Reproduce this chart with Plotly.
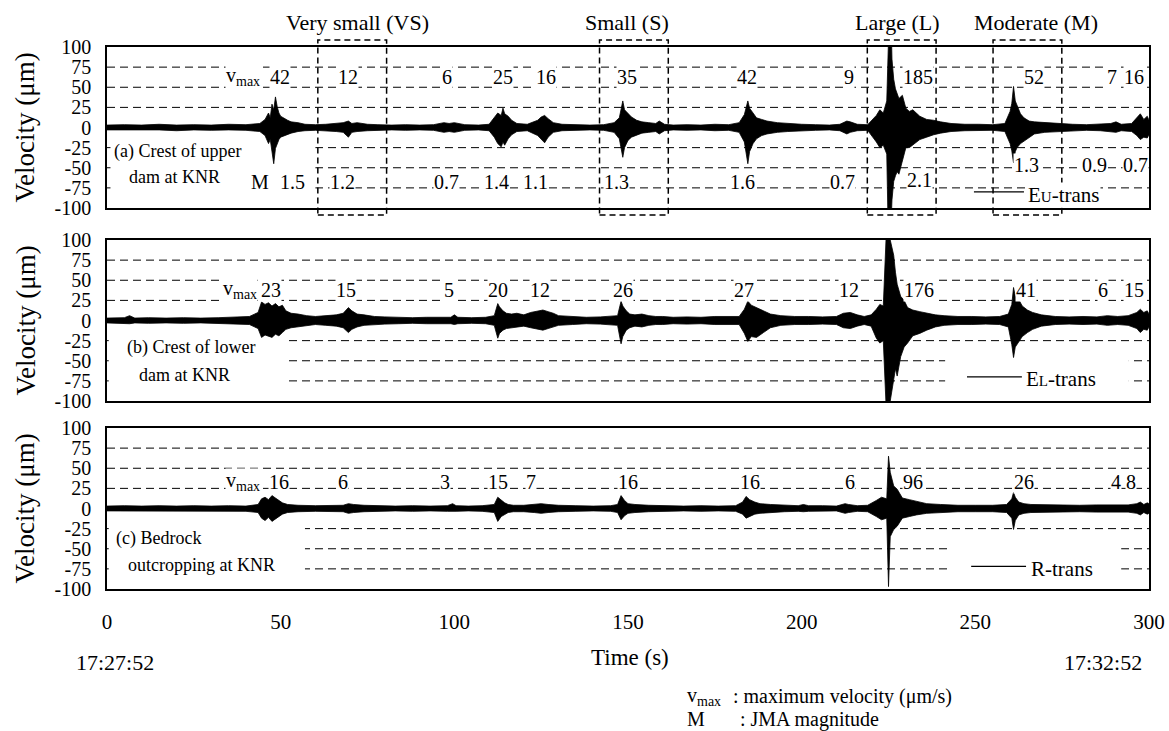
import plotly.graph_objects as go
from plotly.subplots import make_subplots

W, H = 1169, 731
FONT = "Liberation Serif, Times New Roman, serif"

# ---------- data ----------
# envelope of each velocity record: time (s), upper and lower peak (um)
t_a = [0, 5, 10, 15, 20, 25, 30, 35, 40, 44,
       45.5, 46.5, 47, 47.5, 48, 48.5, 49, 49.5, 50, 51,
       52, 53, 55, 57, 60, 63, 66, 68, 69.5, 70.5,
       72, 75, 78, 82, 86, 90, 94, 97, 98.5, 100,
       103, 107, 110, 111.5, 112.5, 113.5, 114, 114.5, 115.5, 116.5,
       118, 121, 124, 125, 126, 127, 128.5, 131, 135, 139,
       143, 146, 147.5, 148.5, 149, 150, 151, 152.5, 154, 156,
       158, 159, 160.5, 163, 167, 171, 175, 179, 182, 183.5,
       184.5, 185, 186, 187, 188.5, 190, 193, 196, 200, 204,
       208, 211, 213, 214, 216, 219, 221.5, 222.5, 223.5, 224.5,
       225, 225.5, 226, 226.5, 227, 227.5, 228, 229, 230, 231,
       232, 234, 236, 238, 240, 243, 247, 251, 255, 258.5,
       260, 260.5, 261, 261.5, 262, 263, 264, 265.5, 267, 270,
       274, 278, 282, 286, 289, 290.5, 292, 295, 296.5, 297.5,
       298.5, 299.5, 300]
up_a = [3, 3.5, 3, 4, 3, 3.5, 3, 4, 3.5, 5,
        10, 18, 12, 29, 22, 38, 26, 18, 14, 11,
        9, 7, 6, 4, 3.5, 4, 5, 6, 8, 5,
        6, 4, 3.5, 3, 3.5, 3, 3.5, 6, 5, 6,
        3.5, 3, 4, 12, 18, 15, 24, 17, 14, 9,
        5, 4, 9, 13, 15, 11, 6, 4, 3.5, 3,
        3.5, 6, 12, 33, 22, 17, 13, 9, 7, 6,
        5, 8, 4, 3, 3.5, 3, 4, 3.5, 6, 16,
        33, 24, 18, 12, 10, 8, 6, 5, 4, 3.5,
        3, 4, 8, 7, 4, 3.5, 15, 22, 18, 33,
        185, 185, 85, 60, 48, 42, 36, 40, 24, 20,
        22, 14, 10, 9, 7, 5, 4, 4, 3.5, 5,
        20, 30, 51, 33, 28, 17, 12, 8, 7, 6,
        5, 4, 3.5, 4, 5, 7, 4, 5, 12, 17,
        10, 14, 9]
lo_a = [-3, -3, -3.5, -3, -4, -3, -3.5, -3, -3.5, -5,
        -10, -20, -15, -30, -45, -26, -20, -15, -12, -10,
        -8, -7, -5, -4, -3.5, -4, -5, -6, -12, -6,
        -5, -4, -3.5, -3, -3.5, -3, -3.5, -6, -5, -6,
        -3.5, -3, -4, -12, -20, -24, -18, -22, -14, -9,
        -5, -4, -10, -15, -19, -12, -6, -4, -3.5, -3,
        -3.5, -6, -14, -37, -25, -16, -12, -9, -7, -6,
        -5, -8, -4, -3, -3.5, -3, -4, -3.5, -6, -18,
        -45, -30, -20, -14, -10, -8, -6, -5, -4, -3.5,
        -3, -4, -8, -6, -4, -3.5, -18, -25, -22, -33,
        -150, -150, -90, -67, -60, -55, -58, -40, -25, -25,
        -22, -15, -12, -9, -7, -5, -4, -4, -3.5, -5,
        -20, -29, -44, -30, -25, -20, -17, -12, -8, -6,
        -5, -4, -3.5, -4, -5, -6, -4, -5, -10, -15,
        -12, -13, -9]

t_b = [0, 5, 6.5, 8, 12, 17, 22, 27, 32, 37,
       41, 43.5, 44.5, 45.5, 46.5, 47.5, 48.5, 49.5, 50.5, 51.5,
       53, 55, 57.5, 60, 63, 66, 68, 69.5, 70.5, 72,
       74, 77, 80, 84, 88, 92, 96, 99, 100, 101,
       105, 109, 111.5, 112.5, 113, 114, 115, 116.5, 118, 120,
       122, 124, 125.5, 127, 128.5, 130, 134, 138, 142, 145,
       147, 148, 148.5, 149.5, 150.5, 152, 154, 156, 158, 160,
       163, 167, 171, 175, 179, 182, 183.5, 184.5, 185.5, 187,
       189, 191, 194, 198, 202, 206, 210, 212, 214, 216,
       218, 220, 221.5, 222.5, 223.5, 224.5, 225, 225.5, 226.5, 227,
       227.5, 228.5, 229.5, 230.5, 232, 234, 236, 238.5, 241, 245,
       249, 253, 257, 259.5, 260.5, 261, 261.5, 262.5, 263.5, 265,
       266.5, 269, 273, 277, 281, 285, 288, 291, 294, 296.5,
       297.5, 298.5, 299.5, 300]
up_b = [3, 3.5, 6, 3, 3.5, 3, 3.5, 3, 3.5, 4,
        5, 10, 23, 20, 22, 18, 21, 17, 19, 12,
        9, 8, 6, 5, 6, 7, 9, 16, 12, 8,
        7, 5, 4.5, 4, 3.5, 4, 3.5, 4, 7, 4,
        3.5, 4, 6, 21, 17, 12, 9, 8, 9, 7,
        10, 12, 13, 11, 9, 6, 5, 4, 4.5, 5,
        6, 24, 18, 12, 8, 7, 8, 6, 5, 5,
        4, 4.5, 4, 5, 4.5, 5, 14, 24, 19, 16,
        12, 8, 6, 5, 5, 4.5, 5, 9, 10, 7,
        5, 7, 14, 20, 18, 100, 176, 100, 81, 60,
        45, 30, 25, 16, 13, 11, 9, 7, 6, 5,
        5, 4.5, 5, 8, 20, 41, 30, 26, 18, 13,
        10, 7, 5, 4.5, 5, 4.5, 6, 5, 6, 10,
        14, 10, 12, 8]
lo_b = [-3, -3.5, -4, -3, -3.5, -3, -3.5, -3, -3.5, -4,
        -5, -10, -21, -18, -20, -21, -17, -19, -15, -11,
        -9, -8, -6, -5, -6, -7, -9, -15, -11, -8,
        -6, -5, -4.5, -4, -3.5, -4, -3.5, -4, -5, -4,
        -3.5, -4, -6, -22, -16, -12, -10, -9, -8, -7,
        -9, -11, -12, -10, -8, -6, -5, -4, -4.5, -5,
        -6, -29, -20, -12, -9, -7, -8, -6, -5, -5,
        -4, -4.5, -4, -5, -4.5, -5, -16, -26, -20, -21,
        -15, -9, -6, -5, -5, -4.5, -5, -9, -10, -7,
        -5, -7, -22, -28, -25, -100, -176, -100, -74, -60,
        -69, -45, -33, -28, -19, -16, -12, -8, -6, -5,
        -5, -4.5, -5, -8, -30, -46, -33, -26, -20, -15,
        -11, -7, -5, -4.5, -5, -4.5, -6, -5, -6, -10,
        -15, -11, -12, -8]

t_c = [0, 5, 10, 15, 20, 25, 30, 35, 40, 43.5,
       44.5, 45.5, 46.5, 47.5, 48.5, 49.5, 50.5, 52, 55, 60,
       65, 68, 69.5, 71, 74, 78, 83, 88, 93, 98,
       99.5, 100.5, 104, 108, 111.5, 112.5, 113.5, 114.5, 115.5, 117,
       120, 123, 125, 127, 130, 135, 140, 145, 147, 148,
       149, 150, 152, 156, 161, 166, 171, 176, 181, 183,
       184, 185, 186.5, 188, 191, 195, 199, 200.5, 202, 206,
       210, 212.5, 213.5, 216, 219, 221.5, 223, 224.5, 225, 225.5,
       226, 226.5, 227.5, 229, 231, 233, 236, 240, 245, 250,
       255, 259, 260.5, 261, 261.5, 262.5, 264, 266, 270, 275,
       280, 285, 290, 294, 296.5, 297.5, 298.5, 299.5, 300]
up_c = [3, 3.5, 3, 3.5, 3, 3.5, 3, 3.5, 3, 5,
        12, 14, 11, 16, 13, 10, 7, 5, 4, 3.5,
        3.5, 4, 6, 5, 4, 3.5, 3, 3.5, 3, 3.5,
        6, 3.5, 3, 3.5, 5, 14, 10, 7, 5, 4,
        4, 5, 6, 5, 4, 3.5, 3, 3.5, 5, 16,
        10, 6, 5, 4, 3.5, 3, 3.5, 3, 3.5, 8,
        15, 11, 8, 6, 5, 4, 3.5, 5, 3.5, 3.5,
        3, 6, 5, 3.5, 4, 10, 14, 12, 65, 45,
        36, 28, 24, 13, 11, 9, 6, 5, 4, 4,
        4, 5, 12, 20, 14, 8, 6, 5, 4.5, 4,
        4, 4.5, 4, 4.5, 6, 8, 5, 7, 6]
lo_c = [-3, -3, -3.5, -3, -3.5, -3, -3.5, -3, -3.5, -5,
        -12, -15, -11, -16, -13, -9, -7, -5, -4, -3.5,
        -3.5, -4, -6, -5, -4, -3.5, -3, -3.5, -3, -3.5,
        -4, -3.5, -3, -3.5, -5, -16, -10, -7, -5, -4,
        -4, -5, -6, -5, -4, -3.5, -3, -3.5, -5, -14,
        -9, -6, -5, -4, -3.5, -3, -3.5, -3, -3.5, -7,
        -12, -10, -7, -6, -5, -4, -3.5, -4, -3.5, -3.5,
        -3, -6, -5, -3.5, -4, -10, -14, -12, -97, -35,
        -30, -26, -22, -12, -10, -8, -6, -5, -4, -4,
        -4, -5, -12, -26, -15, -8, -6, -5, -4.5, -4,
        -4, -4.5, -4, -4.5, -6, -8, -5, -7, -6]

# maximum velocity (um/s) labels and their times
vmax_a = ['42', '12', '6', '25', '16', '35', '42', '9', '185', '52', '7', '16']
vmax_a_t = [49.8, 69.3, 97.8, 113.9, 126.3, 149.6, 184.4, 213.7, 233.4, 266.9, 289.3, 295.7]
vmax_b = ['23', '15', '5', '20', '12', '26', '27', '12', '176', '41', '6', '15']
vmax_b_t = [47.3, 68.7, 98.4, 112.7, 124.8, 148.7, 183.5, 213.7, 233.8, 264.6, 286.7, 295.8]
vmax_c = ['16', '6', '3', '15', '7', '16', '16', '6', '96', '26', '4', '8']
vmax_c_t = [49.5, 67.9, 97.4, 112.7, 122.2, 150.1, 185.2, 214.0, 232.1, 264.0, 290.5, 294.9]

# JMA magnitude labels (upper dam panel)
mag_a = ['1.5', '1.2', '0.7', '1.4', '1.1', '1.3', '1.6', '0.7', '2.1', '1.3', '0.9', '0.7']
mag_a_t = [53.5, 67.9, 97.8, 112.2, 123.4, 146.7, 182.9, 211.7, 233.8, 264.6, 284.2, 296.0]
mag_a_y = [-68, -68, -68, -68, -68, -68, -68, -68, -65, -47, -47, -47]

# selected events
events = ['Very small (VS)', 'Small (S)', 'Large (L)', 'Moderate (M)']
ev_start = [60.7, 141.8, 218.9, 255.1]
ev_end = [80.5, 161.6, 238.7, 274.9]
ev_text_x = [72.2, 149.6, 227.5, 267.5]

y_ticks = [100, 75, 50, 25, 0, -25, -50, -75, -100]
grid_y = [75, 50, 25, -25, -50, -75]
x_ticks = [0, 50, 100, 150, 200, 250, 300]


def px_x(p):
    return p / W


def px_y(p):
    return 1 - p / H


fig = make_subplots(rows=3, cols=1, shared_xaxes=True)

records = [(t_a, up_a, lo_a), (t_b, up_b, lo_b), (t_c, up_c, lo_c)]
for i, (t, up, lo) in enumerate(records):
    fig.add_trace(go.Scatter(x=t, y=up, mode='lines', line=dict(color='black', width=0.8),
                             hoverinfo='skip'), row=i + 1, col=1)
    fig.add_trace(go.Scatter(x=t, y=lo, mode='lines', line=dict(color='black', width=0.8),
                             fill='tonexty', fillcolor='black', hoverinfo='skip'), row=i + 1, col=1)

# panel boxes in pixels (top, bottom)
panels = [(47, 208), (240, 401), (428, 589)]
x_dom = [px_x(107), px_x(1149)]
for i, (top, bot) in enumerate(panels):
    n = '' if i == 0 else str(i + 1)
    fig.layout['yaxis' + n].update(
        domain=[px_y(bot), px_y(top)], range=[-100, 100], tickvals=y_ticks,
        ticktext=[str(v) for v in y_ticks], showgrid=False, zeroline=False,
        showline=True, mirror=True, linecolor='black', linewidth=1.5,
        tickfont=dict(family=FONT, size=20, color='black'), ticklabelstandoff=10)
    fig.layout['xaxis' + n].update(
        domain=x_dom, range=[0, 300], showgrid=False, zeroline=False,
        showline=True, mirror=True, linecolor='black', linewidth=1.5,
        tickvals=x_ticks, showticklabels=(i == 2),
        tickfont=dict(family=FONT, size=21, color='black'), ticklabelstandoff=13)

shapes = []
annots = []

# dashed grid lines
for i in range(3):
    n = '' if i == 0 else str(i + 1)
    for g in grid_y:
        shapes.append(dict(type='line', xref='x' + n, yref='y' + n, x0=0, x1=300, y0=g, y1=g,
                           line=dict(color='black', width=1, dash='8px,5px'), layer='below'))

# white patches where the grid is hidden behind labels
patches = [('', 1, 60, -90, -15), ('2', 0.5, 51, -90, -12), ('3', 0.5, 57, -90, -12),
           ('2', 241.3, 294.2, -90, -40), ('3', 243, 292, -90, -40)]
for n, x0, x1, y0, y1 in patches:
    shapes.append(dict(type='rect', xref='x' + n, yref='y' + n, x0=x0, x1=x1, y0=y0, y1=y1,
                       fillcolor='white', line=dict(width=0), layer='below'))

# dashed boxes around the selected events
for s, e in zip(ev_start, ev_end):
    shapes.append(dict(type='rect', xref='x', yref='paper', x0=s, x1=e,
                       y0=px_y(215), y1=px_y(40),
                       line=dict(color='black', width=1.5, dash='6px,4px'), layer='above'))
for name, xc in zip(events, ev_text_x):
    annots.append(dict(text=name, xref='x', yref='paper', x=xc, y=px_y(22),
                       xanchor='center', yanchor='middle',
                       showarrow=False, font=dict(family=FONT, size=22)))


def label(text, n, x, y, size=20, anchor='center', bg='white'):
    annots.append(dict(text=text, xref='x' + n, yref='y' + n, x=x, y=y, xanchor=anchor,
                       yanchor='middle', showarrow=False, bgcolor=bg, borderpad=0,
                       font=dict(family=FONT, size=size, color='black')))


for txt, x in zip(vmax_a, vmax_a_t):
    label(txt, '', x, 63)
for txt, x in zip(vmax_b, vmax_b_t):
    label(txt, '2', x, 38)
for txt, x in zip(vmax_c, vmax_c_t):
    label(txt, '3', x, 33)
for txt, x, y in zip(mag_a, mag_a_t, mag_a_y):
    label(txt, '', x, y)

label('v<sub>max</sub>', '', 44.3, 63, anchor='right')
label('v<sub>max</sub>', '2', 43.5, 38, anchor='right')
label('v<sub>max</sub>', '3', 44.3, 33, anchor='right')
label('M', '', 47, -68, anchor='right')

# panel captions
label('(a) Crest of upper', '', 1.7, -30, size=18, anchor='left')
label('dam at KNR', '', 6.0, -61, size=18, anchor='left')
label('(b) Crest of lower', '2', 5.5, -34, size=18, anchor='left')
label('dam at KNR', '2', 8.9, -68, size=18, anchor='left')
label('(c) Bedrock', '3', 2.3, -37, size=18, anchor='left')
label('outcropping at KNR', '3', 5.8, -70, size=18, anchor='left')

# legend entries
legends = [('', 249.6, 264.0, -80, -84, "E<span style='font-size:15px'>U</span>-trans"),
           ('2', 247.6, 263.4, -70, -73, "E<span style='font-size:15px'>L</span>-trans"),
           ('3', 248.8, 264.6, -72, -75.5, 'R-trans')]
for n, x0, x1, yl, yt, txt in legends:
    shapes.append(dict(type='line', xref='x' + n, yref='y' + n, x0=x0, x1=x1, y0=yl, y1=yl,
                       line=dict(color='black', width=1.2), layer='above'))
    label(txt, n, x1 + 1, yt, size=21, anchor='left')

# axis titles and notes
for top, bot in panels:
    annots.append(dict(text='Velocity (μm)', xref='paper', yref='paper', x=px_x(25),
                       y=px_y((top + bot) / 2), textangle=-90, showarrow=False,
                       xanchor='center', yanchor='middle',
                       font=dict(family=FONT, size=27)))

notes = [('17:27:52', 115, 662, 'center', 22), ('17:32:52', 1103, 662, 'center', 22),
         ('Time (s)', 630, 657, 'center', 23),
         ('v<sub>max</sub>', 685, 696, 'left', 20), (': maximum velocity (μm/s)', 731, 696, 'left', 20),
         ('M', 685, 719, 'left', 20), (': JMA magnitude', 738, 719, 'left', 20)]
for txt, x, y, anc, size in notes:
    annots.append(dict(text=txt, xref='paper', yref='paper', x=px_x(x), y=px_y(y),
                       xanchor=anc, yanchor='middle', showarrow=False,
                       font=dict(family=FONT, size=size)))

fig.update_layout(width=W, height=H, margin=dict(l=0, r=0, t=0, b=0, autoexpand=False),
                  plot_bgcolor='white', paper_bgcolor='white', showlegend=False,
                  font=dict(family=FONT, color='black'), shapes=shapes, annotations=annots)

fig.write_html("out.html", config={'displayModeBar': False},
               post_script="document.body.style.margin='0';")
